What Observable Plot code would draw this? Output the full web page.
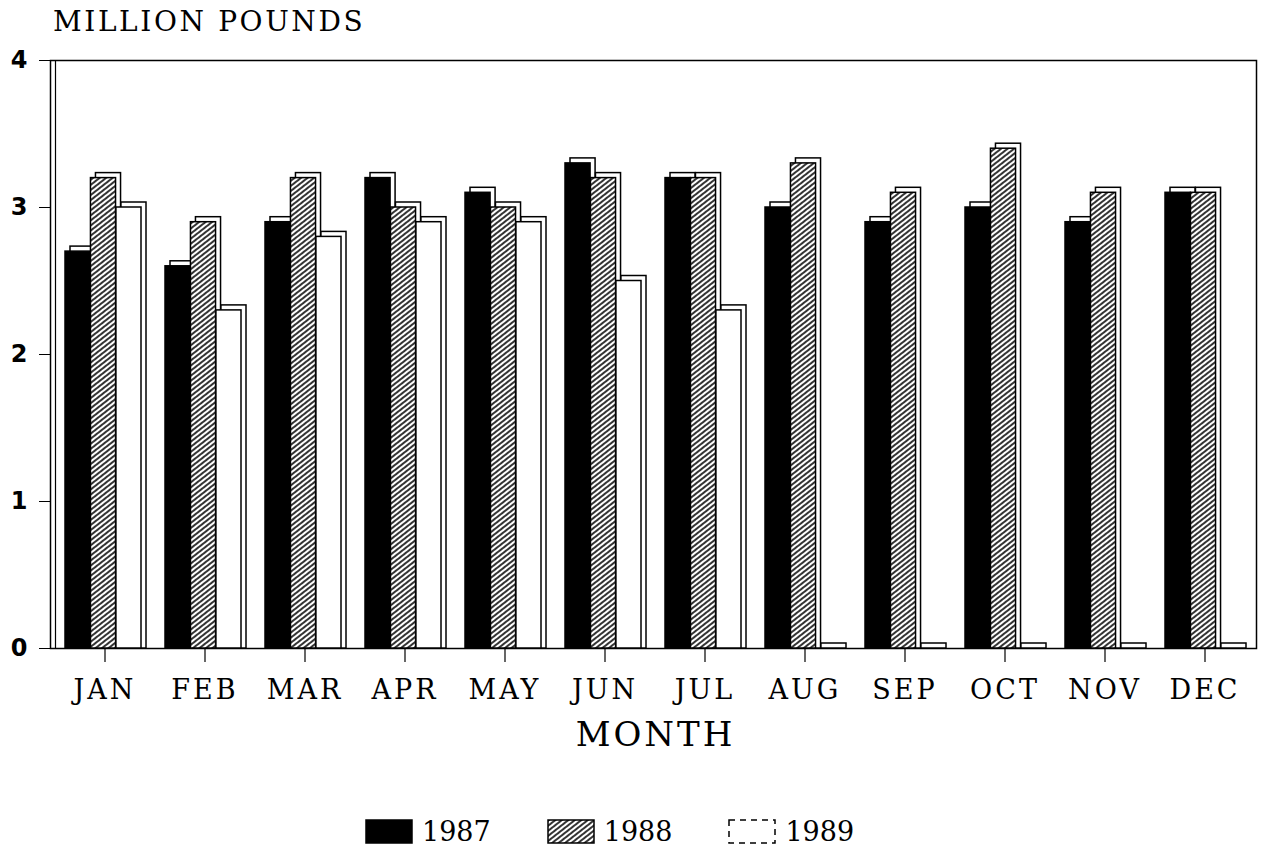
<!DOCTYPE html>
<html><head><meta charset="utf-8">
<script src="https://cdn.jsdelivr.net/npm/d3@7"></script>
<script src="https://cdn.jsdelivr.net/npm/@observablehq/plot@0.6"></script>
<style>
body{margin:0;background:#fff;width:1263px;height:847px;overflow:hidden;font-family:"DejaVu Serif",serif;position:relative;}
#title{height:40px;position:relative;}
#title span{position:absolute;left:53px;top:8px;font-size:28px;letter-spacing:2.6px;color:#000;line-height:1;}
#legend{position:absolute;left:365px;top:816px;height:30px;display:flex;align-items:center;font-size:27px;}
#legend .item{display:flex;align-items:center;margin-right:56px;}
#legend svg{margin-right:9px;}
</style></head><body>
<svg width="0" height="0" style="position:absolute">
  <defs>
    <pattern id="hatch" patternUnits="userSpaceOnUse" width="4" height="4" patternTransform="rotate(-38)">
      <rect width="4" height="4" fill="#fff"/>
      <line x1="0" y1="2" x2="4" y2="2" stroke="#000" stroke-width="1.6"/>
    </pattern>
  </defs>
</svg>
<div id="title"><span>MILLION POUNDS</span></div>
<div id="chart"></div>
<div id="legend"></div>
<script>
const months = ["JAN","FEB","MAR","APR","MAY","JUN","JUL","AUG","SEP","OCT","NOV","DEC"];
const years = ["1987","1988","1989"];
const v1987 = [2.7, 2.6, 2.9, 3.2, 3.1, 3.3, 3.2, 3.0, 2.9, 3.0, 2.9, 3.1];
const v1988 = [3.2, 2.9, 3.2, 3.0, 3.0, 3.2, 3.2, 3.3, 3.1, 3.4, 3.1, 3.1];
const v1989 = [3.0, 2.3, 2.8, 2.9, 2.9, 2.5, 2.3, 0, 0, 0, 0, 0];
const yTicks = [0, 1, 2, 3, 4];

const series = {"1987": v1987, "1988": v1988, "1989": v1989};
const fills = {"1987": "#000", "1988": "url(#hatch)", "1989": "#fff"};

const W = 1263, H = 750, ml = 50, mr = 7, mt = 20, mb = 142;
const padIn = 0.24;
const bw = (W - ml - mr) / months.length * (1 - padIn);
const barW = bw / years.length;

const marks = [
  Plot.frame({stroke: "#000", strokeWidth: 1.5}),
  Plot.frame({anchor: "left", dx: 5, stroke: "#000", strokeWidth: 1.2})
];
years.forEach((yr, k) => {
  const data = months.map((m, i) => ({month: m, value: series[yr][i]}));
  const opts = {x: "month", y: "value", insetLeft: k * barW, insetRight: (years.length - 1 - k) * barW};
  marks.push(Plot.barY(data, {...opts, dx: 5, insetTop: -5, fill: "#fff", stroke: "#000", strokeWidth: 1.5}));
  marks.push(Plot.barY(data, {...opts, fill: fills[yr], stroke: "#000", strokeWidth: 1.5}));
});
marks.push(Plot.axisX({tickSize: 14, tickPadding: 17, fontSize: 27, fontFamily: "DejaVu Serif", label: null, strokeWidth: 1.2, dx: 1.5}));
marks.push(Plot.axisY({ticks: yTicks, tickSize: 11, tickPadding: 12, fontSize: 24, fontWeight: "bold", fontFamily: "DejaVu Sans", label: null, tickFormat: d => d}));
marks.push(Plot.text(["MONTH"], {frameAnchor: "bottom", dy: 97, dx: 2, fontSize: 34, fontFamily: "DejaVu Serif", fill: "#000"}));

const chart = Plot.plot({
  width: W, height: H,
  marginLeft: ml, marginRight: mr, marginTop: mt, marginBottom: mb,
  style: {background: "#fff", color: "#000", fontFamily: "DejaVu Serif", overflow: "visible"},
  x: {domain: months, paddingInner: padIn, paddingOuter: padIn / 2, axis: null},
  y: {domain: [0, 4], axis: null},
  marks
});
document.getElementById("chart").appendChild(chart);
d3.select(chart).selectAll('g[aria-label="x-axis tick label"] text').attr("letter-spacing", "3px");
d3.select(chart).selectAll('g[aria-label="text"] text').attr("letter-spacing", "3px");

const legend = document.getElementById("legend");
years.forEach(yr => {
  const item = document.createElement("div");
  item.className = "item";
  const dash = yr === "1989" ? ' stroke-dasharray="6 5"' : '';
  item.innerHTML = `<svg width="48" height="25"><rect x="1" y="1" width="46" height="23" fill="${fills[yr]}" stroke="#000" stroke-width="1.5"${dash}/></svg><span>${yr}</span>`;
  legend.appendChild(item);
});
</script>
</body></html>
